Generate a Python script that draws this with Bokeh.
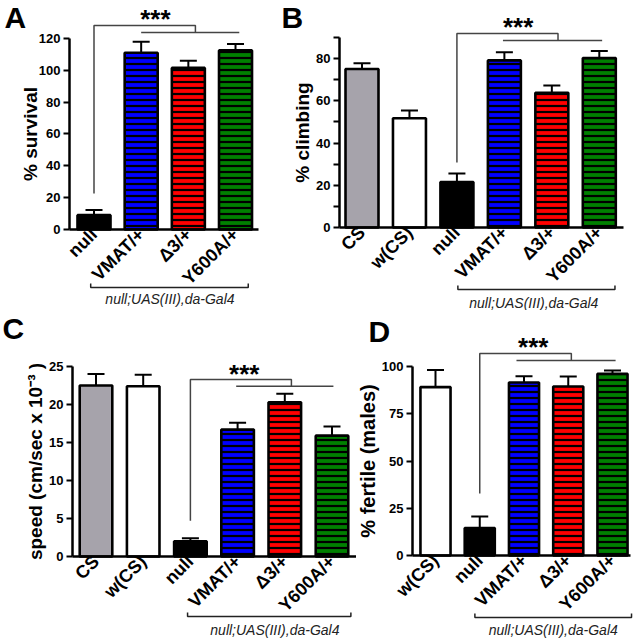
import math
from bokeh.plotting import figure
from bokeh.models import (Range1d, FixedTicker, Whisker, TeeHead, ColumnDataSource, Label)
from bokeh.layouts import column, row
from bokeh.embed import file_html
from bokeh.resources import INLINE

FONT = "Liberation Sans"

# ---------------- data ----------------
a_categories = ["null", "VMAT/+", "Δ3/+", "Y600A/+"]
a_values = [9.0, 111.0, 101.5, 112.5]
a_error_top = [12.2, 118.0, 106.0, 116.5]

b_categories = ["CS", "w(CS)", "null", "VMAT/+", "Δ3/+", "Y600A/+"]
b_values = [75.0, 51.7, 21.5, 79.1, 63.8, 80.2]
b_error_top = [77.8, 55.4, 25.6, 83.0, 67.2, 83.5]

c_categories = ["CS", "w(CS)", "null", "VMAT/+", "Δ3/+", "Y600A/+"]
c_values = [22.5, 22.4, 2.0, 16.7, 20.3, 15.9]
c_error_top = [24.0, 23.9, 2.4, 17.6, 21.4, 17.1]

d_categories = ["w(CS)", "null", "VMAT/+", "Δ3/+", "Y600A/+"]
d_values = [89.1, 14.5, 91.5, 89.4, 96.1]
d_error_top = [98.2, 20.6, 94.9, 94.7, 97.9]

a_yticks = [0, 20, 40, 60, 80, 100, 120]
b_yticks = [0, 20, 40, 60, 80]
b_yminor = [10, 30, 50, 70, 90]
c_yticks = [0, 5, 10, 15, 20, 25]
d_yticks = [0, 25, 50, 75, 100]

group_label = "null;UAS(III),da-Gal4"

BAR_COLORS = {"CS": "#a6a3ab", "w(CS)": "#ffffff", "null": "#000000",
              "VMAT/+": "#0000ff", "Δ3/+": "#ff0000", "Y600A/+": "#008000"}
STRIPED = {"VMAT/+", "Δ3/+", "Y600A/+"}

# significance brackets: control x, low y, top y, junction x, drop y, left x, right x
a_sig = (0, 22.6, 128.1, 2.15, 123.7, 1.0, 3.08)
b_sig = (2, 30.8, 91.8, 4.13, 88.5, 2.97, 5.06)
c_sig = (2, 4.7, 23.3, 4.14, 22.4, 2.97, 5.03)
d_sig = (1, 32.8, 106.9, 3.07, 103.2, 1.83, 4.07)


def build(cats, vals, errs, g, ylabel, yticks, ybounds, sig, stars, lower, letter,
          yminor=None, ylabel_size="19px", label_standoff=0):
    ox, oy = g["origin"]
    W, H = g["size"]
    c0, sp, ppu = g["first"], g["spacing"], g["ppu"]
    zero_py = g["zero_y"]

    def xd(px):
        return (px - c0) / sp

    def yd(py):
        return (zero_py - py) / ppu

    p = figure(width=W, height=H,
               x_range=Range1d(xd(ox), xd(ox + W)),
               y_range=Range1d(yd(oy + H), yd(oy)),
               output_backend="svg", toolbar_location=None,
               min_border=0, min_border_left=0, min_border_right=0,
               min_border_top=0, min_border_bottom=0)
    p.outline_line_color = None
    p.xgrid.visible = False
    p.ygrid.visible = False
    p.background_fill_color = "white"
    p.border_fill_color = "white"

    x = list(range(len(cats)))
    src = ColumnDataSource(dict(
        x=x, top=vals, err=errs,
        color=[BAR_COLORS[c] for c in cats],
        hatch=["horizontal_line" if c in STRIPED else " " for c in cats]))

    p.add_layout(Whisker(source=src, base="x", lower="top", upper="err",
                         dimension="height", line_color="black", line_width=2,
                         lower_head=None,
                         upper_head=TeeHead(size=17, line_color="black", line_width=2)))
    p.vbar(x="x", top="top", bottom=0, width=g["bar_w"], source=src,
           fill_color="color", line_color="black", line_width=2.6,
           hatch_pattern="hatch", hatch_color="black", hatch_weight=2.2,
           hatch_scale=6)

    x0, ylow, ytop, xj, y2, xl, xr = sig
    p.multi_line(xs=[[x0, x0, xj, xj], [xl, xr]],
                 ys=[[ylow, ytop, ytop, y2], [y2, y2]],
                 line_color="#444444", line_width=1.5)

    sx, sy = stars
    p.add_layout(Label(x=sx, y=yd(sy + 3), text="***", text_font=FONT,
                       text_font_size="26px", text_font_style="bold",
                       text_align="center", text_baseline="alphabetic",
                       text_color="black"))

    lx0, lx1, ly, ltick, tx, ty = lower
    p.multi_line(xs=[[lx0, lx0, lx1, lx1]],
                 ys=[[yd(ltick), yd(ly), yd(ly), yd(ltick)]],
                 line_color="#222222", line_width=1.5)
    p.add_layout(Label(x=tx, y=yd(ty), text=group_label, text_font=FONT,
                       text_font_size="14px", text_font_style="italic",
                       text_align="center", text_baseline="middle",
                       text_color="#222222"))

    ltxt, lpx, lpy = letter
    p.add_layout(Label(x=xd(lpx), y=yd(lpy), text=ltxt, text_font=FONT,
                       text_font_size="30px", text_font_style="bold",
                       text_align="left", text_baseline="middle",
                       text_color="black"))

    xa = p.xaxis[0]
    xa.fixed_location = 0
    xa.bounds = (xd(g["axis_x"]), xd(g["axis_end"]))
    xa.ticker = FixedTicker(ticks=x)
    xa.major_label_overrides = {i: c for i, c in enumerate(cats)}
    xa.major_label_orientation = math.pi / 4
    xa.major_tick_out = 0
    xa.major_tick_in = 0
    xa.minor_tick_out = 0
    xa.minor_tick_in = 0
    xa.axis_line_width = 2.5
    xa.axis_line_color = "black"
    xa.major_label_text_font = FONT
    xa.major_label_text_font_size = "18px"
    xa.major_label_text_font_style = "bold"
    xa.major_label_text_color = "black"
    xa.major_label_standoff = 2

    ya = p.yaxis[0]
    ya.fixed_location = xd(g["axis_x"])
    ya.ticker = FixedTicker(ticks=yticks, minor_ticks=yminor or [])
    ya.bounds = ybounds
    ya.axis_line_width = 2.5
    ya.axis_line_color = "black"
    ya.major_tick_out = 6
    ya.major_tick_in = 0
    ya.major_tick_line_width = 2
    ya.minor_tick_out = 6 if yminor else 0
    ya.minor_tick_in = 0
    ya.minor_tick_line_width = 2
    ya.major_label_text_font = FONT
    ya.major_label_text_font_size = "13px"
    ya.major_label_text_font_style = "bold"
    ya.major_label_text_color = "black"
    ya.major_label_standoff = 3
    ya.axis_label = ylabel
    ya.axis_label_text_font = FONT
    ya.axis_label_text_font_size = ylabel_size
    ya.axis_label_text_font_style = "bold"
    ya.axis_label_text_color = "black"
    ya.axis_label_standoff = label_standoff
    return p


gA = dict(origin=(0, 0), size=(278, 310), axis_x=69, axis_end=258, zero_y=229,
          first=93.5, spacing=47.17, ppu=1.592, bar_w=0.70)
gB = dict(origin=(278, 0), size=(355, 310), axis_x=339, axis_end=623, zero_y=227,
          first=361.5, spacing=47.46, ppu=2.1125, bar_w=0.695)
gC = dict(origin=(0, 310), size=(356, 329), axis_x=72, axis_end=358, zero_y=556,
          first=95.5, spacing=47.2, ppu=7.6, bar_w=0.69)
gD = dict(origin=(356, 310), size=(277, 329), axis_x=412, axis_end=630, zero_y=555,
          first=435, spacing=44.25, ppu=1.89, bar_w=0.68)

pA = build(a_categories, a_values, a_error_top, gA, "% survival", a_yticks, (0, 120),
           a_sig, (1.3, 15), (-0.07, 3.27, 287, 283, 1.61, 298), ("A", 4, 17),
           label_standoff=-5)
pB = build(b_categories, b_values, b_error_top, gB, "% climbing", b_yticks, (0, 90),
           b_sig, (3.29, 23), (2.02, 5.33, 289, 285, 3.62, 302), ("B", 281, 17),
           yminor=b_yminor)
pC = build(c_categories, c_values, c_error_top, gC, "speed (cm/sec x 10⁻³ )", c_yticks,
           (0, 25), c_sig, (3.14, 370), (1.94, 5.4, 616, 612, 3.79, 629), ("C", 2, 328))
pD = build(d_categories, d_values, d_error_top, gD, "% fertile (males)", d_yticks,
           (0, 100), d_sig, (2.21, 343), (0.89, 4.43, 617, 613, 2.66, 629), ("D", 368, 331),
           ylabel_size="20px")

layout = column(row(pA, pB), row(pC, pD))
open("out.html", "w").write(file_html(layout, INLINE))
